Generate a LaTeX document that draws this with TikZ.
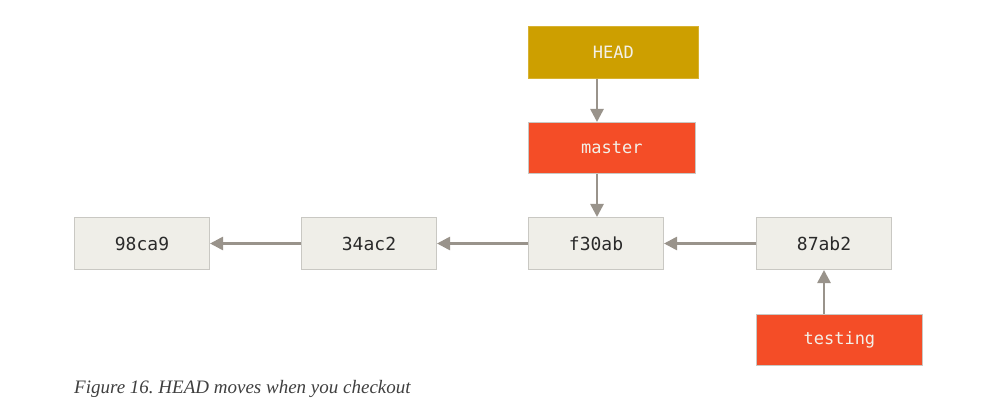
\documentclass[tikz,border=0pt]{standalone}
\usepackage{fontspec}
\setmainfont{Liberation Serif}
\newfontfamily\boxmono{DejaVu Sans Mono}
\usetikzlibrary{arrows.meta}
\frenchspacing
\definecolor{commitfill}{HTML}{EFEEE8}
\definecolor{commitdraw}{HTML}{C9C8C3}
\definecolor{headfill}{HTML}{CD9F00}
\definecolor{branchfill}{HTML}{F44D27}
\definecolor{arrowgray}{HTML}{99938B}
\definecolor{textdark}{HTML}{2A2A2A}
\definecolor{textlight}{HTML}{F3F0E8}
\tikzset{
  commit/.style={draw=commitdraw, line width=1pt, fill=commitfill, text=textdark,
    font=\boxmono\fontsize{18}{20}\selectfont, minimum width=135pt, minimum height=52pt,
    inner sep=0pt, anchor=north west},
  headbox/.style={fill=headfill, draw=headfill!80!white, line width=0.8pt, text=textlight,
    font=\boxmono\fontsize{17}{20}\selectfont, minimum width=170pt, minimum height=52pt,
    inner sep=0pt, anchor=north west},
  branchbox/.style={fill=branchfill, draw=commitdraw, line width=0.8pt, text=textlight,
    font=\boxmono\fontsize{17}{20}\selectfont, minimum height=51pt,
    inner sep=0pt, anchor=north west},
  ptr/.style={draw=arrowgray, line width=2.6pt, -{Triangle[length=13pt,width=13pt]}}
}
\begin{document}
\begin{tikzpicture}[x=1pt,y=-1pt]
\useasboundingbox (0,0) rectangle (1008,403);
\node[commit] (c1) at (74,217) {98ca9};
\node[commit] (c2) at (301,217) {34ac2};
\node[commit] (c3) at (528,217) {f30ab};
\node[commit] (c4) at (756,217) {87ab2};
\node[headbox] (head) at (528,26) {HEAD};
\node[branchbox, minimum width=167pt] (master) at (528,122) {master};
\node[branchbox, minimum width=166pt] (testing) at (756,314) {testing};
\coordinate (mtop) at (597,122);
\draw[ptr] (head.south -| mtop) -- (master.north -| mtop);
\draw[ptr] (master.south -| mtop) -- (c3.north -| mtop);
\draw[ptr] (c3.west) -- (c2.east);
\draw[ptr] (c2.west) -- (c1.east);
\draw[ptr] (c4.west) -- (c3.east);
\coordinate (tx) at (824,300);
\draw[ptr] (testing.north -| tx) -- (c4.south -| tx);
\node[anchor=base west, inner sep=0pt, font=\itshape\fontsize{19}{22}\selectfont, text=textdark!90] (cap) at (74,393) {Figure 16. HEAD moves when you checkout};
\end{tikzpicture}
\end{document}
